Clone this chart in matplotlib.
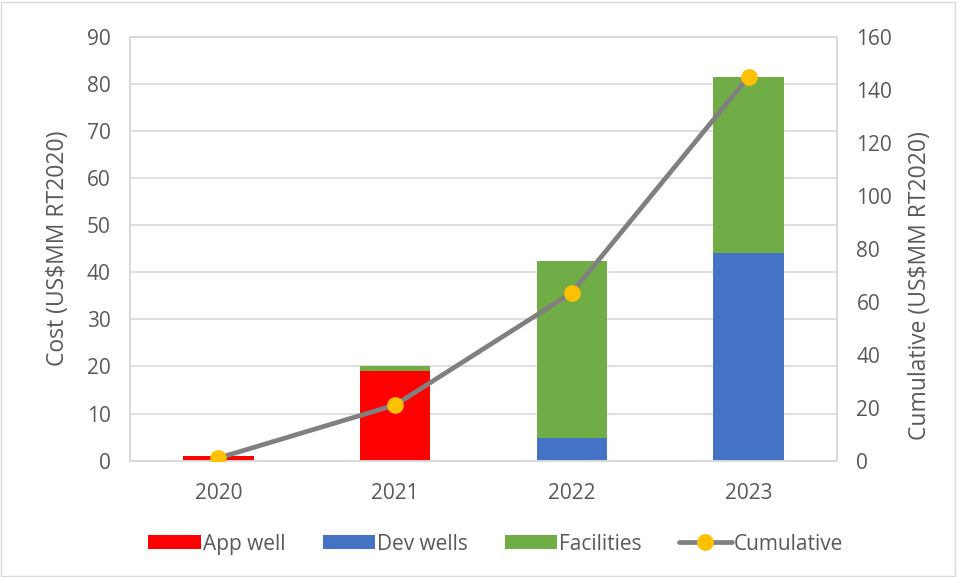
import matplotlib
matplotlib.use("Agg")
import matplotlib.pyplot as plt
import numpy as np

years = ["2020", "2021", "2022", "2023"]
app_well = [1.0, 19.0, 0.0, 0.0]
dev_wells = [0.0, 0.0, 4.9, 44.1]
facilities = [0.0, 1.0, 37.5, 37.4]
cumulative = [1.0, 21.0, 63.4, 144.9]

plt.rcParams['font.family'] = ['Open Sans', 'DejaVu Sans']
txt = '#595959'

fig = plt.figure(figsize=(9.57, 5.77), dpi=100)
ax = fig.add_axes([0.1358, 0.2016, 0.7388, 0.7348])
ax2 = ax.twinx()

x = np.arange(len(years))
w = 0.4
ax.bar(x, app_well, w, color='#FF0000', label='App well', zorder=2)
ax.bar(x, dev_wells, w, bottom=app_well, color='#4472C4', label='Dev wells', zorder=2)
bottom2 = np.array(app_well) + np.array(dev_wells)
ax.bar(x, facilities, w, bottom=bottom2, color='#70AD47', label='Facilities', zorder=2)

ax2.plot(x, cumulative, color='#808080', lw=3.4, marker='o', markersize=11,
         markerfacecolor='#FFC000', markeredgecolor='#FFC000', label='Cumulative',
         solid_capstyle='round', zorder=3)

ax.set_xlim(-0.5, 3.5)
ax.set_ylim(0, 90)
ax.set_yticks(np.arange(0, 91, 10))
ax2.set_ylim(0, 160)
ax2.set_yticks(np.arange(0, 161, 20))
ax.set_xticks(x)
ax.set_xticklabels(years)

ax.grid(axis='y', color='#D9D9D9', lw=1.2, zorder=0)
ax.set_axisbelow(True)
for a in (ax, ax2):
    a.tick_params(length=0, labelsize=15, colors=txt, pad=14)
    for s in a.spines.values():
        s.set_color('#D9D9D9')
        s.set_linewidth(1.2)
ax.tick_params(axis='x', pad=16)

ax.set_ylabel('Cost (US$MM RT2020)', fontsize=16.5, color=txt)
ax2.set_ylabel('Cumulative (US$MM RT2020)', fontsize=16.5, color=txt)
for a, cx, cy in ((ax, -0.1018, 0.5), (ax2, 1.117, 0.412)):
    a.yaxis.set_label_coords(cx, cy)
    a.yaxis.label.set_va('center')
    a.yaxis.label.set_ha('center')

h1, l1 = ax.get_legend_handles_labels()
h2, l2 = ax2.get_legend_handles_labels()
leg = fig.legend(h1 + h2, l1 + l2, loc='center', bbox_to_anchor=(0.518, 0.057), ncol=4,
                 frameon=False, fontsize=15, handlelength=2.5, handleheight=0.65,
                 columnspacing=1.8, handletextpad=0.1)
for t in leg.get_texts():
    t.set_color(txt)

fig.patches.append(plt.Rectangle((0.001, 0.002), 0.997, 0.995, transform=fig.transFigure,
                                 fill=False, edgecolor='#D9D9D9', lw=1))

fig.savefig('out.png', dpi=100)
